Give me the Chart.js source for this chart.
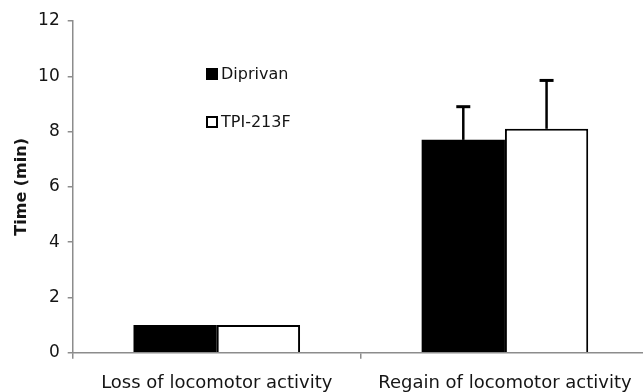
<!DOCTYPE html>
<html>
<head>
<meta charset="utf-8">
<script src="https://cdn.jsdelivr.net/npm/chart.js@4.4.0/dist/chart.umd.min.js"></script>
<style>
  html, body { margin: 0; padding: 0; background: #fff; overflow: hidden; }
  #wrap { position: relative; width: 660px; height: 392px; }
</style>
</head>
<body>
<div id="wrap"><canvas id="timeChart"></canvas></div>
<script>
"use strict";

// values
const categories = ['Loss of locomotor activity', 'Regain of locomotor activity'];
const seriesNames = ['Diprivan', 'TPI-213F'];
const diprivanMeans = [1.0, 7.7];
const diprivanErrors = [0, 1.2];
const tpiMeans = [1.0, 8.1];
const tpiErrors = [0, 1.75];
const yTicks = [0, 2, 4, 6, 8, 10, 12];

const axisGrey = '#8c8c8c';
const textColor = '#151515';

// upper error bars, drawn through the y scale
const errorBars = {
    id: 'errorBars',
    afterDatasetsDraw(chart) {
        const ctx = chart.ctx;
        const yScale = chart.scales.y;
        chart.data.datasets.forEach((ds, i) => {
            const meta = chart.getDatasetMeta(i);
            meta.data.forEach((bar, j) => {
                const err = ds.errors[j];
                if (!err) return;
                const yTop = yScale.getPixelForValue(ds.data[j] + err);
                ctx.save();
                ctx.strokeStyle = '#000';
                ctx.lineWidth = 2.5;
                ctx.beginPath();
                ctx.moveTo(bar.x, bar.y);
                ctx.lineTo(bar.x, yTop);
                ctx.stroke();
                ctx.lineWidth = 3;
                ctx.beginPath();
                ctx.moveTo(bar.x - 7, yTop);
                ctx.lineTo(bar.x + 7, yTop);
                ctx.stroke();
                ctx.restore();
            });
        });
    }
};

// legend inside the plot, two rows
const innerLegend = {
    id: 'innerLegend',
    afterDraw(chart) {
        const ctx = chart.ctx;
        const rows = [74, 122];
        ctx.save();
        ctx.font = '16px "DejaVu Sans"';
        ctx.textBaseline = 'middle';
        chart.data.datasets.forEach((ds, i) => {
            const y = rows[i];
            ctx.fillStyle = ds.backgroundColor;
            ctx.fillRect(206, y - 6, 12, 12);
            ctx.strokeStyle = '#000';
            ctx.lineWidth = 2;
            ctx.strokeRect(207, y - 5, 10, 10);
            ctx.fillStyle = textColor;
            ctx.fillText(ds.label, 221, y + 1);
        });
        ctx.restore();
    }
};

const config = {
    type: 'bar',
    data: {
        labels: categories,
        datasets: [{
            label: seriesNames[0],
            data: diprivanMeans,
            errors: diprivanErrors,
            backgroundColor: '#000',
            borderColor: '#000',
            borderWidth: 0
        }, {
            label: seriesNames[1],
            data: tpiMeans,
            errors: tpiErrors,
            backgroundColor: '#fff',
            borderColor: '#000',
            borderWidth: 2
        }]
    },
    options: {
        responsive: true,
        maintainAspectRatio: false,
        animation: false,
        layout: { padding: { top: 21, right: 11, left: 0, bottom: 0 } },
        categoryPercentage: 0.578,
        barPercentage: 1.0,
        plugins: {
            legend: { display: false },
            tooltip: { enabled: false }
        },
        scales: {
            x: {
                grid: {
                    drawOnChartArea: false,
                    drawTicks: true,
                    tickLength: 6,
                    color: axisGrey,
                    lineWidth: 1.5
                },
                border: { color: axisGrey, width: 1.5 },
                ticks: {
                    color: textColor,
                    padding: 14,
                    maxRotation: 0,
                    font: { family: 'DejaVu Sans', size: 18 }
                },
                afterFit(scale) { scale.height = 39.3; }
            },
            y: {
                min: 0,
                max: 12,
                afterBuildTicks(scale) {
                    scale.ticks = yTicks.map(v => ({ value: v }));
                },
                grid: {
                    drawOnChartArea: false,
                    drawTicks: true,
                    tickLength: 5,
                    color: axisGrey,
                    lineWidth: 1.5
                },
                border: { color: axisGrey, width: 1.5 },
                ticks: {
                    color: textColor,
                    padding: 8,
                    font: { family: 'DejaVu Sans', size: 17 }
                },
                title: {
                    display: true,
                    text: 'Time (min)',
                    color: textColor,
                    padding: { top: 12, bottom: 0 },
                    font: { family: 'DejaVu Sans', size: 16, weight: 'bold' }
                },
                afterFit(scale) { scale.width = 72.7; }
            }
        }
    },
    plugins: [errorBars, innerLegend]
};

const timeChart = new Chart(document.getElementById('timeChart'), config);
</script>
</body>
</html>
